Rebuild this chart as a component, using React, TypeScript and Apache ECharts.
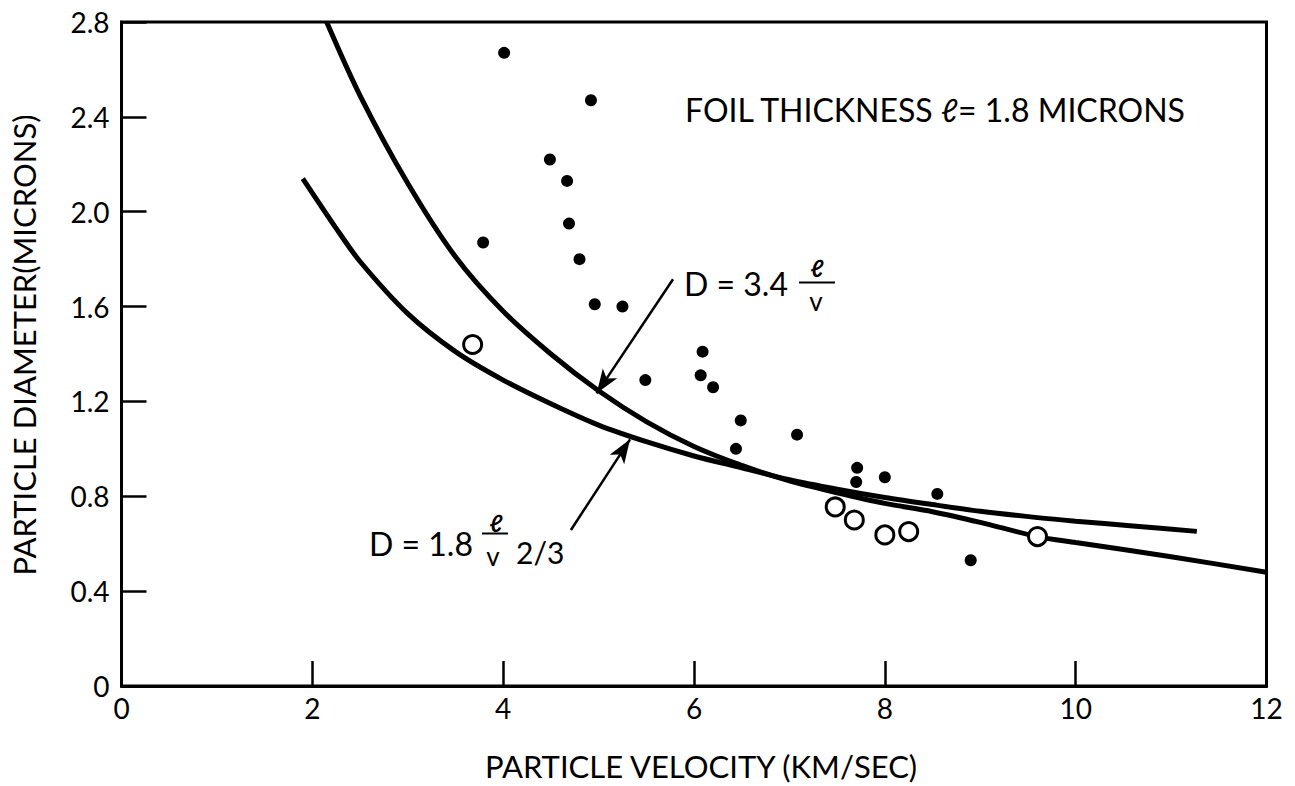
import React, { useEffect, useRef } from "react";
import * as echarts from "echarts";

// ---- data ----
const xTicks = [0, 2, 4, 6, 8, 10, 12];
const yTicks = [0, 0.4, 0.8, 1.2, 1.6, 2.0, 2.4, 2.8];

// solid dots
const filledVelocity = [4.01, 4.92, 4.49, 4.67, 4.69, 3.79, 4.8, 4.96, 5.25, 6.09, 5.49, 6.07, 6.2, 6.49, 7.08, 6.44, 7.71, 7.7, 8.0, 8.55, 8.9];
const filledDiameter = [2.67, 2.47, 2.22, 2.13, 1.95, 1.87, 1.8, 1.61, 1.6, 1.41, 1.29, 1.31, 1.26, 1.12, 1.06, 1.0, 0.92, 0.86, 0.88, 0.81, 0.53];

// open circles
const openVelocity = [3.68, 7.48, 7.68, 8.0, 8.25, 9.6];
const openDiameter = [1.44, 0.755, 0.7, 0.637, 0.651, 0.63];

// curve D = 3.4 l / v (as drawn)
const curveAVelocity = [2.15, 2.5, 3.0, 3.5, 4.0, 4.5, 5.0, 5.5, 6.0, 6.5, 7.0, 7.5, 8.0, 8.5, 9.0, 9.6, 10.0, 11.0, 12.0];
const curveADiameter = [2.8, 2.49, 2.12, 1.81, 1.58, 1.4, 1.245, 1.115, 1.01, 0.93, 0.865, 0.815, 0.77, 0.735, 0.69, 0.63, 0.605, 0.545, 0.48];

// curve D = 1.8 l / v^(2/3) (as drawn)
const curveBVelocity = [1.9, 2.25, 2.5, 3.0, 3.5, 4.0, 4.5, 5.0, 5.5, 6.0, 6.5, 7.0, 7.5, 8.0, 8.5, 9.0, 9.6, 10.0, 10.6, 11.27];
const curveBDiameter = [2.14, 1.93, 1.79, 1.57, 1.41, 1.29, 1.19, 1.1, 1.03, 0.97, 0.92, 0.87, 0.83, 0.795, 0.765, 0.737, 0.71, 0.695, 0.675, 0.652];

// annotation arrows [from, to] in data units
const arrowAFrom = [5.78, 1.715];
const arrowATo = [4.98, 1.234];
const arrowBFrom = [4.71, 0.658];
const arrowBTo = [5.33, 1.04];

const xAxisTitle = "PARTICLE VELOCITY (KM/SEC)";
const yAxisTitle = "PARTICLE DIAMETER(MICRONS)";
const foilNote = "FOIL THICKNESS \u2113= 1.8 MICRONS";

const FONT = "Lato, 'Noto Sans', sans-serif";

export default function App() {
  const ref = useRef<HTMLDivElement>(null);

  useEffect(() => {
    if (!ref.current) return;
    const chart = echarts.init(ref.current, null, { renderer: "svg" });

    const zip = (a: number[], b: number[]) => a.map((v, i) => [v, b[i]]);

    const txt = (text: string, x: number, y: number, size: number, align = "left", extra: any = {}) => ({
      type: "text",
      x,
      y,
      silent: true,
      style: {
        text,
        fontSize: size,
        fontFamily: FONT,
        fill: "#000",
        align,
        verticalAlign: "middle",
        ...extra,
      },
    });

    const option: any = {
      animation: false,
      backgroundColor: "#fff",
      textStyle: { fontFamily: FONT, color: "#000" },
      grid: {
        left: 121.5,
        right: 28.5,
        top: 22,
        bottom: 93.5,
        show: true,
        borderColor: "#000",
        borderWidth: 3,
        backgroundColor: "transparent",
      },
      xAxis: {
        type: "value",
        min: xTicks[0],
        max: xTicks[xTicks.length - 1],
        interval: 2,
        name: xAxisTitle,
        nameLocation: "middle",
        nameGap: 64,
        nameTextStyle: { fontSize: 31, fontFamily: FONT, color: "#000", padding: [0, 0, 0, 14] },
        axisLine: { show: true, lineStyle: { color: "#000", width: 3 } },
        axisTick: { show: true, inside: true, length: 25, lineStyle: { color: "#000", width: 2.5 } },
        axisLabel: { fontSize: 28, color: "#000", fontFamily: FONT, margin: 8 },
        splitLine: { show: false },
      },
      yAxis: {
        type: "value",
        min: yTicks[0],
        max: yTicks[yTicks.length - 1],
        interval: 0.4,
        name: yAxisTitle,
        nameLocation: "middle",
        nameGap: 82,
        nameTextStyle: { fontSize: 31, fontFamily: FONT, color: "#000", padding: [0, 0, 0, 18] },
        axisLine: { show: true, lineStyle: { color: "#000", width: 3 } },
        axisTick: { show: true, inside: true, length: 25, lineStyle: { color: "#000", width: 2.5 } },
        axisLabel: {
          fontSize: 28,
          color: "#000",
          fontFamily: FONT,
          margin: 12,
          formatter: (v: number) => (v === 0 ? "0" : v.toFixed(1)),
        },
        splitLine: { show: false },
      },
      series: [
        {
          type: "line",
          data: zip(curveAVelocity, curveADiameter),
          smooth: 0.3,
          showSymbol: false,
          lineStyle: { color: "#000", width: 5 },
          z: 2,
          markLine: {
            silent: true,
            symbol: ["none", "arrow"],
            symbolSize: [13, 24],
            label: { show: false },
            lineStyle: { color: "#000", width: 2.5, type: "solid" },
            data: [
              [{ coord: arrowAFrom }, { coord: arrowATo }],
              [{ coord: arrowBFrom }, { coord: arrowBTo }],
            ],
          },
        },
        {
          type: "line",
          data: zip(curveBVelocity, curveBDiameter),
          smooth: 0.3,
          showSymbol: false,
          lineStyle: { color: "#000", width: 5 },
          z: 2,
        },
        {
          type: "scatter",
          data: zip(filledVelocity, filledDiameter),
          symbol: "circle",
          symbolSize: 12,
          itemStyle: { color: "#000", opacity: 1 },
          z: 3,
        },
        {
          type: "scatter",
          data: zip(openVelocity, openDiameter),
          symbol: "circle",
          symbolSize: 18,
          itemStyle: { color: "#fff", borderColor: "#000", borderWidth: 3, opacity: 1 },
          z: 4,
        },
      ],
      graphic: [
        txt(foilNote, 685, 109, 32),
        // D = 3.4 l / v
        txt("D = 3.4", 684, 283, 32),
        txt("\u2113", 817, 267, 24, "center", { fontWeight: "bold" }),
        { type: "line", silent: true, shape: { x1: 799, y1: 282.5, x2: 835, y2: 282.5 }, style: { stroke: "#000", lineWidth: 2 } },
        txt("v", 816, 301, 26, "center"),
        // D = 1.8 l / v 2/3
        txt("D = 1.8", 369, 543, 32),
        txt("\u2113", 496, 522, 24, "center", { fontWeight: "bold" }),
        { type: "line", silent: true, shape: { x1: 482, y1: 533.5, x2: 508, y2: 533.5 }, style: { stroke: "#000", lineWidth: 2 } },
        txt("v", 493, 556, 26, "center"),
        txt("2/3", 516, 552, 30),
      ],
    };

    chart.setOption(option);
    return () => chart.dispose();
  }, []);

  return (
    <div
      ref={ref}
      style={{ position: "fixed", left: 0, top: 0, width: 1295, height: 786, background: "#fff" }}
    />
  );
}
